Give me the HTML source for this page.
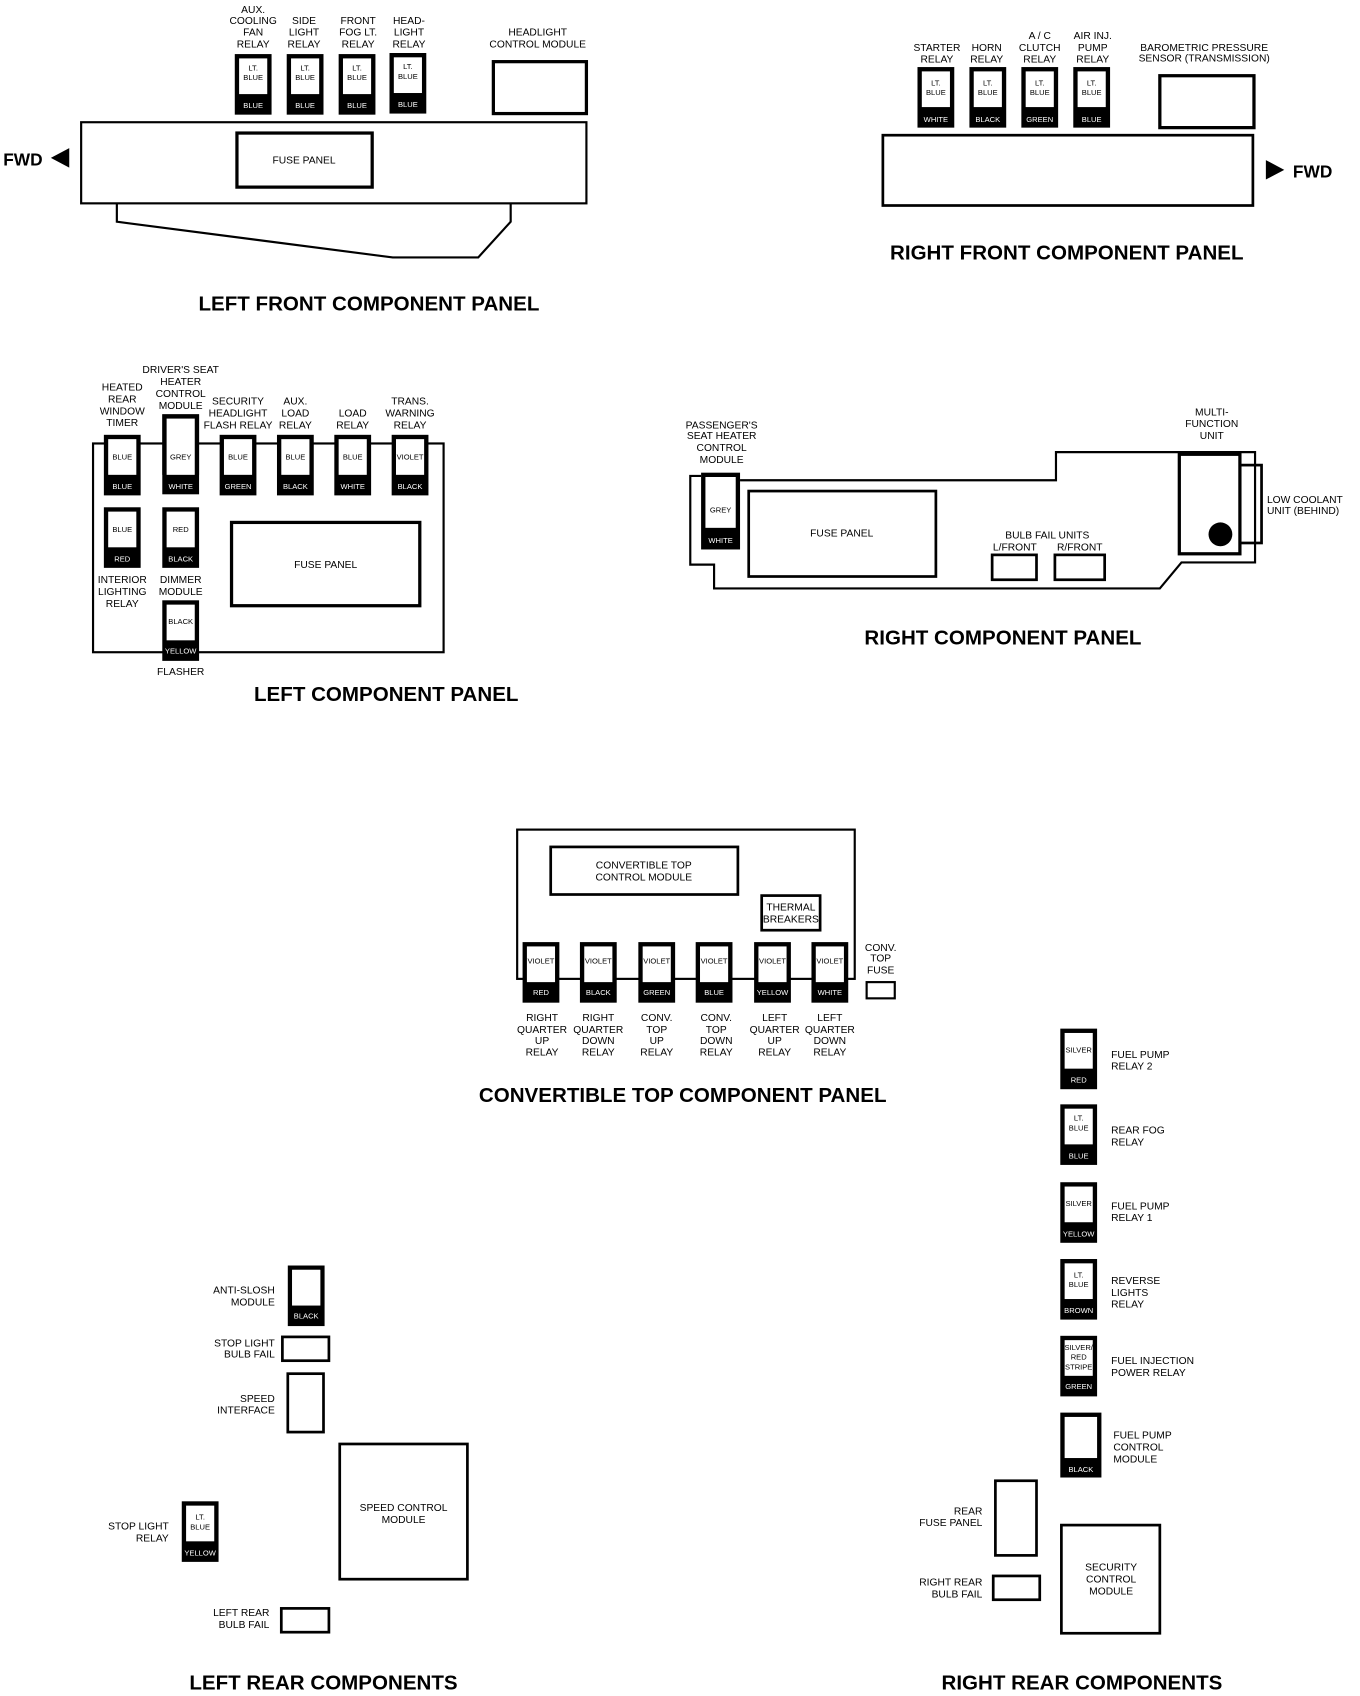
<!DOCTYPE html>
<html><head><meta charset="utf-8"><style>
html,body{margin:0;padding:0;background:#fff;}
svg{display:block;}
text{font-family:"Liberation Sans Narrow","Liberation Sans",sans-serif;fill:#000;}
.s{font-size:9.5px;text-anchor:middle;}
.sl{font-size:9.5px;text-anchor:start;}
.sr{font-size:9.5px;text-anchor:end;}
.i{font-size:7px;text-anchor:middle;}
.w{font-size:7px;text-anchor:middle;fill:#fff;}
.t{font-size:19px;font-weight:bold;text-anchor:middle;font-family:"Liberation Sans Narrow","Liberation Sans",sans-serif;}
.f{font-size:16px;font-weight:bold;}
</style></head><body>
<svg width="1360" height="1696" viewBox="0 0 1257 1568" preserveAspectRatio="none" xmlns="http://www.w3.org/2000/svg">
<defs>
<g id="r"><rect x="0" y="0" width="34" height="56" fill="#000"/><rect x="4" y="4" width="26" height="33" fill="#fff"/></g>
</defs>
<g fill="none" stroke="#000" stroke-width="2">
<!-- left front -->
<rect x="75" y="113" width="467" height="75"/>
<rect x="219" y="123" width="125" height="50" stroke-width="3"/>
<polyline points="108,188 108,205 363,238 442,238 472,205 472,188"/>
<rect x="456" y="57" width="86" height="48" stroke-width="3"/>
<!-- right front -->
<rect x="816" y="125" width="342" height="65" stroke-width="2.5"/>
<rect x="1072" y="70" width="87" height="48" stroke-width="3"/>
<!-- left component -->
<rect x="86" y="410" width="324" height="193"/>
<rect x="214" y="483" width="174" height="77" stroke-width="3"/>
<!-- right component -->
<polyline points="648,440 638,440 638,522 660,522 660,544 1072,544 1092,520 1160,520 1160,418 976,418 976,444 684,444"/>
<rect x="692" y="454" width="173" height="79" stroke-width="2.5"/>
<rect x="917" y="513" width="41" height="23" stroke-width="2.5"/>
<rect x="975" y="513" width="46" height="23" stroke-width="2.5"/>
<rect x="1146" y="430" width="20" height="72" stroke-width="2.5"/>
<rect x="1090" y="420" width="56" height="92" stroke-width="3" fill="#fff"/>
<!-- convertible -->
<rect x="478" y="767" width="312" height="138"/>
<rect x="509" y="783" width="173" height="44" stroke-width="2.5"/>
<rect x="704" y="828" width="54" height="32" stroke-width="2.5"/>
<rect x="801" y="908" width="26" height="15" stroke-width="2"/>
<!-- left rear -->
<rect x="261" y="1236" width="43" height="22" stroke-width="2.5"/>
<rect x="266" y="1270" width="33" height="54" stroke-width="2.5"/>
<rect x="314" y="1335" width="118" height="125" stroke-width="2.5"/>
<rect x="260" y="1487" width="44" height="22" stroke-width="2.5"/>
<!-- right rear -->
<rect x="920" y="1369" width="38" height="69" stroke-width="2.5"/>
<rect x="918" y="1457" width="43" height="22" stroke-width="2.5"/>
<rect x="981" y="1410" width="91" height="100" stroke-width="2.5"/>
</g>
<circle cx="1128" cy="494" r="11" fill="#000"/>
<polygon points="47,146 64,137 64,155" fill="#000"/>
<polygon points="1187,157 1170,148 1170,166" fill="#000"/>
<text x="3" y="153" class="f">FWD</text>
<text x="1195" y="164" class="f">FWD</text>

<!-- LEFT FRONT relays -->
<use href="#r" x="217" y="50"/><use href="#r" x="265" y="50"/><use href="#r" x="313" y="50"/><use href="#r" x="360" y="49"/>
<text class="i" x="234" y="65">LT.</text><text class="i" x="234" y="74">BLUE</text><text class="w" x="234" y="100">BLUE</text>
<text class="i" x="282" y="65">LT.</text><text class="i" x="282" y="74">BLUE</text><text class="w" x="282" y="100">BLUE</text>
<text class="i" x="330" y="65">LT.</text><text class="i" x="330" y="74">BLUE</text><text class="w" x="330" y="100">BLUE</text>
<text class="i" x="377" y="64">LT.</text><text class="i" x="377" y="73">BLUE</text><text class="w" x="377" y="99">BLUE</text>
<text class="s" x="234" y="12">AUX.</text><text class="s" x="234" y="22">COOLING</text><text class="s" x="234" y="33">FAN</text><text class="s" x="234" y="44">RELAY</text>
<text class="s" x="281" y="22">SIDE</text><text class="s" x="281" y="33">LIGHT</text><text class="s" x="281" y="44">RELAY</text>
<text class="s" x="331" y="22">FRONT</text><text class="s" x="331" y="33">FOG LT.</text><text class="s" x="331" y="44">RELAY</text>
<text class="s" x="378" y="22">HEAD-</text><text class="s" x="378" y="33">LIGHT</text><text class="s" x="378" y="44">RELAY</text>
<text class="s" x="497" y="33">HEADLIGHT</text><text class="s" x="497" y="44">CONTROL MODULE</text>
<text class="s" x="281" y="151">FUSE PANEL</text>
<text class="t" x="341" y="287">LEFT FRONT COMPONENT PANEL</text>

<!-- RIGHT FRONT -->
<use href="#r" x="848" y="62"/><use href="#r" x="896" y="62"/><use href="#r" x="944" y="62"/><use href="#r" x="992" y="62"/>
<text class="i" x="865" y="79">LT.</text><text class="i" x="865" y="88">BLUE</text><text class="w" x="865" y="113">WHITE</text>
<text class="i" x="913" y="79">LT.</text><text class="i" x="913" y="88">BLUE</text><text class="w" x="913" y="113">BLACK</text>
<text class="i" x="961" y="79">LT.</text><text class="i" x="961" y="88">BLUE</text><text class="w" x="961" y="113">GREEN</text>
<text class="i" x="1009" y="79">LT.</text><text class="i" x="1009" y="88">BLUE</text><text class="w" x="1009" y="113">BLUE</text>
<text class="s" x="866" y="47">STARTER</text><text class="s" x="866" y="58">RELAY</text>
<text class="s" x="912" y="47">HORN</text><text class="s" x="912" y="58">RELAY</text>
<text class="s" x="961" y="36">A / C</text><text class="s" x="961" y="47">CLUTCH</text><text class="s" x="961" y="58">RELAY</text>
<text class="s" x="1010" y="36">AIR INJ.</text><text class="s" x="1010" y="47">PUMP</text><text class="s" x="1010" y="58">RELAY</text>
<text class="s" x="1113" y="47">BAROMETRIC PRESSURE</text><text class="s" x="1113" y="57">SENSOR (TRANSMISSION)</text>
<text class="t" x="986" y="240">RIGHT FRONT COMPONENT PANEL</text>

<!-- LEFT COMPONENT -->
<use href="#r" x="96" y="402"/><use href="#r" x="150" y="383" transform="translate(0,0)"/>
<rect x="150" y="383" width="34" height="74" fill="#000"/><rect x="154" y="387" width="26" height="52" fill="#fff"/>
<use href="#r" x="203" y="402"/><use href="#r" x="256" y="402"/><use href="#r" x="309" y="402"/><use href="#r" x="362" y="402"/>
<use href="#r" x="96" y="469"/><use href="#r" x="150" y="469"/><use href="#r" x="150" y="555"/>
<text class="i" x="113" y="425">BLUE</text><text class="w" x="113" y="452">BLUE</text>
<text class="i" x="167" y="425">GREY</text><text class="w" x="167" y="452">WHITE</text>
<text class="i" x="220" y="425">BLUE</text><text class="w" x="220" y="452">GREEN</text>
<text class="i" x="273" y="425">BLUE</text><text class="w" x="273" y="452">BLACK</text>
<text class="i" x="326" y="425">BLUE</text><text class="w" x="326" y="452">WHITE</text>
<text class="i" x="379" y="425">VIOLET</text><text class="w" x="379" y="452">BLACK</text>
<text class="i" x="113" y="492">BLUE</text><text class="w" x="113" y="519">RED</text>
<text class="i" x="167" y="492">RED</text><text class="w" x="167" y="519">BLACK</text>
<text class="i" x="167" y="577">BLACK</text><text class="w" x="167" y="604">YELLOW</text>
<text class="s" x="113" y="361">HEATED</text><text class="s" x="113" y="372">REAR</text><text class="s" x="113" y="383">WINDOW</text><text class="s" x="113" y="394">TIMER</text>
<text class="s" x="167" y="345">DRIVER'S SEAT</text><text class="s" x="167" y="356">HEATER</text><text class="s" x="167" y="367">CONTROL</text><text class="s" x="167" y="378">MODULE</text>
<text class="s" x="220" y="374">SECURITY</text><text class="s" x="220" y="385">HEADLIGHT</text><text class="s" x="220" y="396">FLASH RELAY</text>
<text class="s" x="273" y="374">AUX.</text><text class="s" x="273" y="385">LOAD</text><text class="s" x="273" y="396">RELAY</text>
<text class="s" x="326" y="385">LOAD</text><text class="s" x="326" y="396">RELAY</text>
<text class="s" x="379" y="374">TRANS.</text><text class="s" x="379" y="385">WARNING</text><text class="s" x="379" y="396">RELAY</text>
<text class="s" x="113" y="539">INTERIOR</text><text class="s" x="113" y="550">LIGHTING</text><text class="s" x="113" y="561">RELAY</text>
<text class="s" x="167" y="539">DIMMER</text><text class="s" x="167" y="550">MODULE</text>
<text class="s" x="167" y="624">FLASHER</text>
<text class="s" x="301" y="525">FUSE PANEL</text>
<text class="t" x="357" y="648">LEFT COMPONENT PANEL</text>

<!-- RIGHT COMPONENT -->
<rect x="648" y="437" width="36" height="71" fill="#000"/><rect x="652" y="441" width="28" height="47" fill="#fff"/>
<text class="i" x="666" y="474">GREY</text><text class="w" x="666" y="502">WHITE</text>
<text class="s" x="667" y="396">PASSENGER'S</text><text class="s" x="667" y="406">SEAT HEATER</text><text class="s" x="667" y="417">CONTROL</text><text class="s" x="667" y="428">MODULE</text>
<text class="s" x="1120" y="384">MULTI-</text><text class="s" x="1120" y="395">FUNCTION</text><text class="s" x="1120" y="406">UNIT</text>
<text class="sl" x="1171" y="465">LOW COOLANT</text><text class="sl" x="1171" y="475">UNIT (BEHIND)</text>
<text class="s" x="778" y="496">FUSE PANEL</text>
<text class="s" x="968" y="498">BULB FAIL UNITS</text>
<text class="s" x="938" y="509">L/FRONT</text><text class="s" x="998" y="509">R/FRONT</text>
<text class="t" x="927" y="596">RIGHT COMPONENT PANEL</text>

<!-- CONVERTIBLE -->
<use href="#r" x="483" y="871"/><use href="#r" x="536" y="871"/><use href="#r" x="590" y="871"/><use href="#r" x="643" y="871"/><use href="#r" x="697" y="871"/><use href="#r" x="750" y="871"/>
<text class="i" x="500" y="891">VIOLET</text><text class="w" x="500" y="920">RED</text>
<text class="i" x="553" y="891">VIOLET</text><text class="w" x="553" y="920">BLACK</text>
<text class="i" x="607" y="891">VIOLET</text><text class="w" x="607" y="920">GREEN</text>
<text class="i" x="660" y="891">VIOLET</text><text class="w" x="660" y="920">BLUE</text>
<text class="i" x="714" y="891">VIOLET</text><text class="w" x="714" y="920">YELLOW</text>
<text class="i" x="767" y="891">VIOLET</text><text class="w" x="767" y="920">WHITE</text>
<text class="s" x="595" y="803">CONVERTIBLE TOP</text><text class="s" x="595" y="814">CONTROL MODULE</text>
<text class="s" x="731" y="842">THERMAL</text><text class="s" x="731" y="853">BREAKERS</text>
<text class="s" x="814" y="879">CONV.</text><text class="s" x="814" y="889">TOP</text><text class="s" x="814" y="900">FUSE</text>
<text class="s" x="501" y="944">RIGHT</text><text class="s" x="501" y="955">QUARTER</text><text class="s" x="501" y="965">UP</text><text class="s" x="501" y="976">RELAY</text>
<text class="s" x="553" y="944">RIGHT</text><text class="s" x="553" y="955">QUARTER</text><text class="s" x="553" y="965">DOWN</text><text class="s" x="553" y="976">RELAY</text>
<text class="s" x="607" y="944">CONV.</text><text class="s" x="607" y="955">TOP</text><text class="s" x="607" y="965">UP</text><text class="s" x="607" y="976">RELAY</text>
<text class="s" x="662" y="944">CONV.</text><text class="s" x="662" y="955">TOP</text><text class="s" x="662" y="965">DOWN</text><text class="s" x="662" y="976">RELAY</text>
<text class="s" x="716" y="944">LEFT</text><text class="s" x="716" y="955">QUARTER</text><text class="s" x="716" y="965">UP</text><text class="s" x="716" y="976">RELAY</text>
<text class="s" x="767" y="944">LEFT</text><text class="s" x="767" y="955">QUARTER</text><text class="s" x="767" y="965">DOWN</text><text class="s" x="767" y="976">RELAY</text>
<text class="t" x="631" y="1019">CONVERTIBLE TOP COMPONENT PANEL</text>

<!-- RIGHT REAR -->
<use href="#r" x="980" y="951"/><use href="#r" x="980" y="1021"/><use href="#r" x="980" y="1093"/><use href="#r" x="980" y="1164"/><use href="#r" x="980" y="1235"/>
<rect x="980" y="1306" width="38" height="60" fill="#000"/><rect x="984" y="1310" width="30" height="38" fill="#fff"/>
<text class="i" x="997" y="973">SILVER</text><text class="w" x="997" y="1001">RED</text>
<text class="i" x="997" y="1036">LT.</text><text class="i" x="997" y="1045">BLUE</text><text class="w" x="997" y="1071">BLUE</text>
<text class="i" x="997" y="1115">SILVER</text><text class="w" x="997" y="1143">YELLOW</text>
<text class="i" x="997" y="1181">LT.</text><text class="i" x="997" y="1190">BLUE</text><text class="w" x="997" y="1214">BROWN</text>
<text class="i" x="997" y="1248">SILVER/</text><text class="i" x="997" y="1257">RED</text><text class="i" x="997" y="1266">STRIPE</text><text class="w" x="997" y="1284">GREEN</text>
<text class="w" x="999" y="1361">BLACK</text>
<text class="sl" x="1027" y="978">FUEL PUMP</text><text class="sl" x="1027" y="989">RELAY 2</text>
<text class="sl" x="1027" y="1048">REAR FOG</text><text class="sl" x="1027" y="1059">RELAY</text>
<text class="sl" x="1027" y="1118">FUEL PUMP</text><text class="sl" x="1027" y="1129">RELAY 1</text>
<text class="sl" x="1027" y="1187">REVERSE</text><text class="sl" x="1027" y="1198">LIGHTS</text><text class="sl" x="1027" y="1209">RELAY</text>
<text class="sl" x="1027" y="1261">FUEL INJECTION</text><text class="sl" x="1027" y="1272">POWER RELAY</text>
<text class="sl" x="1029" y="1330">FUEL PUMP</text><text class="sl" x="1029" y="1341">CONTROL</text><text class="sl" x="1029" y="1352">MODULE</text>
<text class="sr" x="908" y="1400">REAR</text><text class="sr" x="908" y="1411">FUSE PANEL</text>
<text class="sr" x="908" y="1466">RIGHT REAR</text><text class="sr" x="908" y="1477">BULB FAIL</text>
<text class="s" x="1027" y="1452">SECURITY</text><text class="s" x="1027" y="1463">CONTROL</text><text class="s" x="1027" y="1474">MODULE</text>
<text class="t" x="1000" y="1562">RIGHT REAR COMPONENTS</text>

<!-- LEFT REAR -->
<use href="#r" x="266" y="1170"/><rect x="270" y="1174" width="26" height="33" fill="#fff"/>
<text class="w" x="283" y="1219">BLACK</text>
<use href="#r" x="168" y="1388"/>
<text class="i" x="185" y="1405">LT.</text><text class="i" x="185" y="1414">BLUE</text><text class="w" x="185" y="1438">YELLOW</text>
<text class="sr" x="254" y="1196">ANTI-SLOSH</text><text class="sr" x="254" y="1207">MODULE</text>
<text class="sr" x="254" y="1245">STOP LIGHT</text><text class="sr" x="254" y="1255">BULB FAIL</text>
<text class="sr" x="254" y="1296">SPEED</text><text class="sr" x="254" y="1307">INTERFACE</text>
<text class="s" x="373" y="1397">SPEED CONTROL</text><text class="s" x="373" y="1408">MODULE</text>
<text class="sr" x="156" y="1414">STOP LIGHT</text><text class="sr" x="156" y="1425">RELAY</text>
<text class="sr" x="249" y="1494">LEFT REAR</text><text class="sr" x="249" y="1505">BULB FAIL</text>
<text class="t" x="299" y="1562">LEFT REAR COMPONENTS</text>
</svg>
</body></html>
